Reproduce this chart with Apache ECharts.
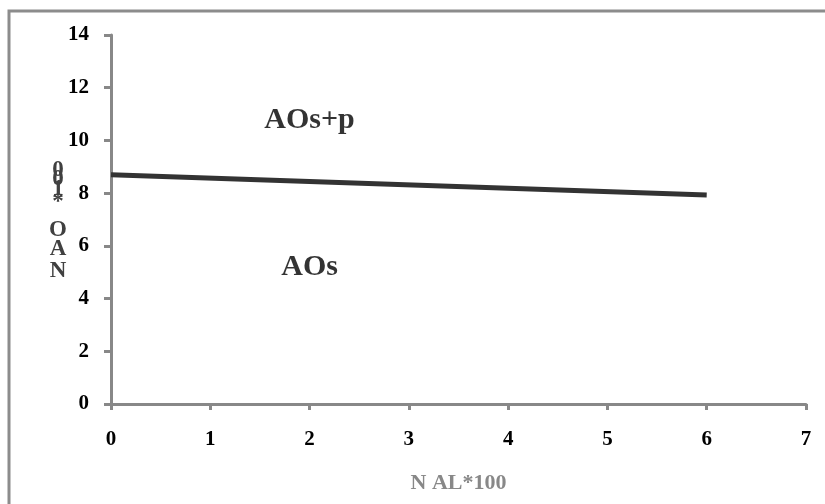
<!DOCTYPE html>
<html><head><meta charset="utf-8">
<script src="https://cdn.jsdelivr.net/npm/echarts@6/dist/echarts.min.js"></script>
<style>html,body{margin:0;padding:0;background:#fff}#c{width:825px;height:504px}</style>
</head><body><div id="c"></div>
<script>
const xValues = [0, 6];
const yValues = [8.7, 7.93];
const xAxisName = 'N AL*100';
const yAxisChars = ['0', '0', '1', '*', 'O', 'A', 'N'];
const yCharPos = [170, 179, 189, 202, 230, 249, 271];
const regionLabels = [
  { text: 'AOs+p', x: 2.0, y: 10.75 },
  { text: 'AOs', x: 2.0, y: 5.2 }
];

const chart = echarts.init(document.getElementById('c'));
const font = '"Liberation Serif", "Times New Roman", serif';
const graphics = [
  { type: 'rect', shape: { x: 9, y: 11, width: 840, height: 520 }, style: { fill: 'none', stroke: '#8c8c8c', lineWidth: 3 }, silent: true }
];
yAxisChars.forEach((ch, i) => {
  graphics.push({ type: 'text', x: 58, y: yCharPos[i], style: { text: ch, font: 'bold 23px ' + font, fill: '#404040', align: 'center', verticalAlign: 'middle' } });
});
chart.setOption({
  animation: false,
  grid: { left: 111, right: 19, top: 35, bottom: 100 },
  graphic: graphics,
  xAxis: {
    type: 'value', min: 0, max: 7, interval: 1,
    name: xAxisName, nameLocation: 'middle', nameGap: 68,
    nameTextStyle: { fontFamily: font, fontWeight: 'bold', fontSize: 22, color: '#888' },
    axisLine: { show: true, lineStyle: { color: '#888', width: 3 } },
    axisTick: { show: true, length: 6, lineStyle: { color: '#888', width: 3 } },
    axisLabel: { fontFamily: font, fontWeight: 'bold', fontSize: 21, color: '#000', margin: 25 },
    splitLine: { show: false }
  },
  yAxis: {
    type: 'value', min: 0, max: 14, interval: 2,
    axisLine: { show: true, lineStyle: { color: '#888', width: 3 } },
    axisTick: { show: true, length: 7, lineStyle: { color: '#888', width: 3 } },
    axisLabel: { fontFamily: font, fontWeight: 'bold', fontSize: 21, color: '#000', margin: 22 },
    splitLine: { show: false }
  },
  series: [
    {
      type: 'line', data: xValues.map((x, i) => [x, yValues[i]]), symbol: 'none',
      lineStyle: { color: '#333', width: 5 }
    },
    {
      type: 'scatter', data: regionLabels.map(d => [d.x, d.y]), symbolSize: 0,
      label: { show: true, position: 'inside', formatter: p => regionLabels[p.dataIndex].text,
        fontFamily: font, fontWeight: 'bold', fontSize: 30, color: '#000' }
    }
  ]
});
</script></body></html>
